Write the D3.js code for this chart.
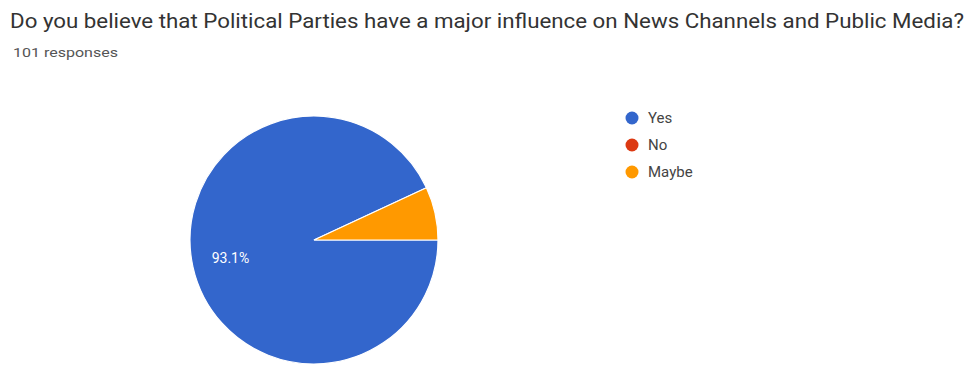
<!DOCTYPE html>
<html>
<head>
<meta charset="utf-8">
<script src="https://cdn.jsdelivr.net/npm/d3@7"></script>
<style>
  body { margin: 0; background: #fff; }
  svg { display: block; font-family: Roboto, Arial, sans-serif; }
</style>
</head>
<body>
<div id="chart"></div>
<script>
// values (101 responses)
var categories = ["Yes", "No", "Maybe"];
var counts = [94, 0, 7];
var colors = ["#3366cc", "#dc3912", "#ff9900"];
var title = "Do you believe that Political Parties have a major influence on News Channels and Public Media?";
var subtitle = "101 responses";

var width = 969, height = 367;
var cx = 314, cy = 240, radius = 124;

var svg = d3.select("#chart")
  .append("svg")
  .attr("width", width)
  .attr("height", height);

svg.append("text")
  .attr("x", 10)
  .attr("y", 28)
  .attr("fill", "#333")
  .attr("textLength", 954)
  .attr("lengthAdjust", "spacingAndGlyphs")
  .style("font-size", "20px")
  .text(title);

svg.append("text")
  .attr("x", 13)
  .attr("y", 57)
  .attr("fill", "#555")
  .attr("textLength", 105)
  .attr("lengthAdjust", "spacingAndGlyphs")
  .style("font-size", "12.5px")
  .text(subtitle);

var data = categories.map(function (c, i) { return { name: c, value: counts[i] }; });
var total = d3.sum(counts);

var color = d3.scaleOrdinal()
  .domain(categories)
  .range(colors);

var pie = d3.pie()
  .value(function (d) { return d.value; })
  .sort(null)
  .startAngle(Math.PI / 2)
  .endAngle(Math.PI / 2 + 2 * Math.PI);

var arc = d3.arc().innerRadius(0).outerRadius(radius);
var labelArc = d3.arc().innerRadius(radius * 0.69).outerRadius(radius * 0.69);

var g = svg.append("g")
  .attr("transform", "translate(" + cx + "," + cy + ")");

var arcs = pie(data).filter(function (d) { return d.value > 0; });

g.selectAll("path")
  .data(arcs)
  .enter()
  .append("path")
  .attr("d", arc)
  .attr("fill", function (d) { return color(d.data.name); })
  .attr("stroke", "#fff")
  .attr("stroke-width", 1.2);

g.selectAll("text")
  .data(arcs.filter(function (d) { return d.value / total > 0.1; }))
  .enter()
  .append("text")
  .attr("transform", function (d) { return "translate(" + labelArc.centroid(d) + ")"; })
  .attr("dy", "0.35em")
  .attr("fill", "#fff")
  .attr("text-anchor", "middle")
  .style("font-size", "14px")
  .text(function (d) { return (d.value / total * 100).toFixed(1) + "%"; });

// legend
var legend = svg.append("g")
  .attr("transform", "translate(632,118)");

var item = legend.selectAll("g")
  .data(categories)
  .enter()
  .append("g")
  .attr("transform", function (d, i) { return "translate(0," + i * 27 + ")"; });

item.append("circle")
  .attr("r", 6.5)
  .attr("fill", function (d) { return color(d); });

item.append("text")
  .attr("x", 16)
  .attr("dy", "0.35em")
  .attr("fill", "#444")
  .style("font-size", "15px")
  .text(function (d) { return d; });
</script>
</body>
</html>
